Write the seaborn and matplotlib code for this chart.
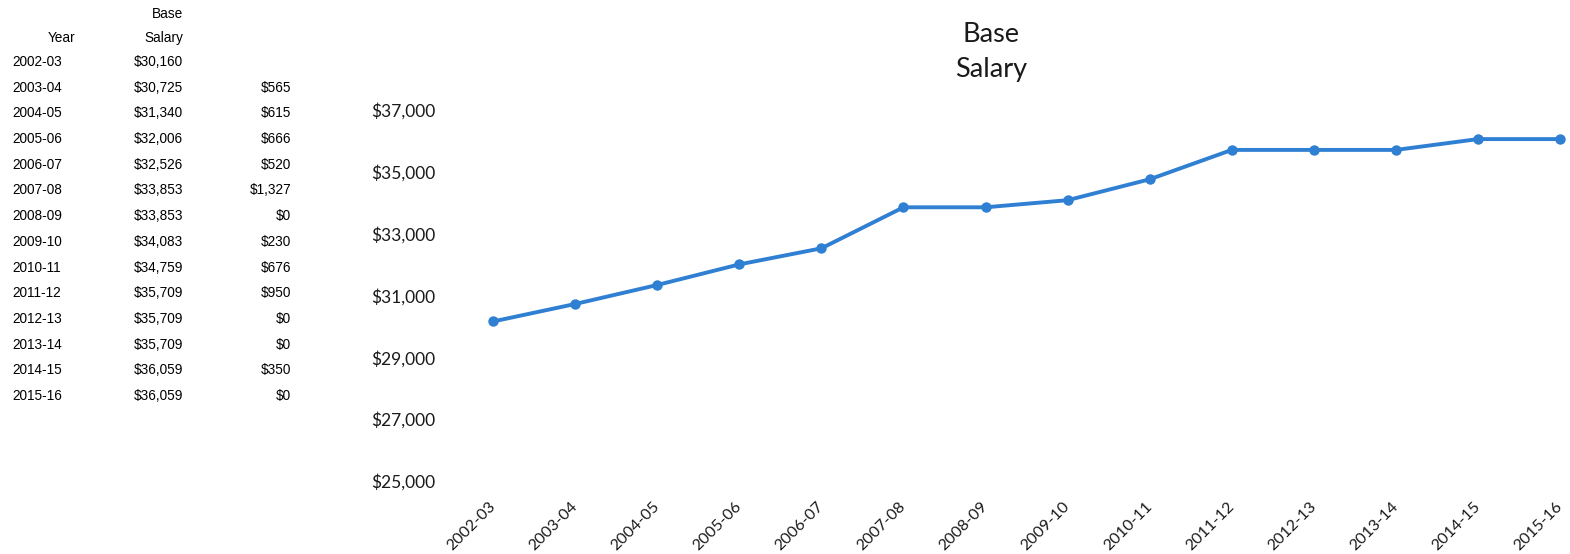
import matplotlib
matplotlib.use("Agg")
import matplotlib.pyplot as plt
import seaborn as sns
import pandas as pd
from matplotlib.ticker import FuncFormatter

# Data
years = ["2002-03", "2003-04", "2004-05", "2005-06", "2006-07", "2007-08", "2008-09",
         "2009-10", "2010-11", "2011-12", "2012-13", "2013-14", "2014-15", "2015-16"]
base_salary = [30160, 30725, 31340, 32006, 32526, 33853, 33853,
               34083, 34759, 35709, 35709, 35709, 36059, 36059]
increase = [None, 565, 615, 666, 520, 1327, 0, 230, 676, 950, 0, 0, 350, 0]
y_ticks = [25000, 27000, 29000, 31000, 33000, 35000, 37000]

LINE_COLOR = "#2F7FD3"
CHART_FONT = ["Lato", "DejaVu Sans"]
TABLE_FONT = ["Liberation Sans", "DejaVu Sans"]

sns.set_theme(style="white")
plt.rcParams["font.family"] = CHART_FONT

df = pd.DataFrame({"Year": years, "Base Salary": base_salary, "pos": range(len(years))})

W, H = 1570, 554
fig = plt.figure(figsize=(W / 100, H / 100), dpi=100)

# axes placed in pixel terms of the reference
left, right, top, bottom = 452, 1570, 110, 481
ax = fig.add_axes([left / W, 1 - bottom / H, (right - left) / W, (bottom - top) / H])

sns.lineplot(data=df, x="pos", y="Base Salary", ax=ax, color=LINE_COLOR,
             linewidth=2.8, marker="o", markersize=7.5, markeredgewidth=0)

ax.set_xlim(-0.5, 13.12)
ax.set_ylim(y_ticks[0], y_ticks[-1])
ax.set_yticks(y_ticks)
ax.yaxis.set_major_formatter(FuncFormatter(lambda v, _: f"${v:,.0f}"))
ax.set_xticks(range(len(years)))
ax.set_xticklabels(years, rotation=45, ha="right", rotation_mode="anchor")
ax.tick_params(axis="y", labelsize=12.5, pad=12, colors="#1a1a1a", length=0)
ax.tick_params(axis="x", labelsize=11.5, pad=17, colors="#1a1a1a", length=0)
for lbl in ax.get_xticklabels():
    lbl.set_va("center")
ax.set_xlabel("")
ax.set_ylabel("")
sns.despine(ax=ax, left=True, bottom=True)
ax.grid(False)

fig.text(991 / W, 1 - 52 / H, "Base\nSalary", ha="center", va="center",
         fontsize=19.5, color="#1a1a1a", linespacing=1.45, family=CHART_FONT)

# table on the left
def px(x, y):
    return x / W, 1 - y / H

tkw = dict(fontsize=9.8, color="black", family=TABLE_FONT, va="center")
fig.text(*px(75, 38), "Year", ha="right", **tkw)
fig.text(*px(183, 14), "Base", ha="right", **tkw)
fig.text(*px(183, 38), "Salary", ha="right", **tkw)
row_y0, row_dy = 62, 25.7
for i, (yr, sal, inc) in enumerate(zip(years, base_salary, increase)):
    y = row_y0 + i * row_dy
    fig.text(*px(12, y), yr, ha="left", **tkw)
    fig.text(*px(183, y), f"${sal:,}", ha="right", **tkw)
    if inc is not None:
        fig.text(*px(291, y), f"${inc:,}", ha="right", **tkw)

fig.savefig("out.png", dpi=100)
